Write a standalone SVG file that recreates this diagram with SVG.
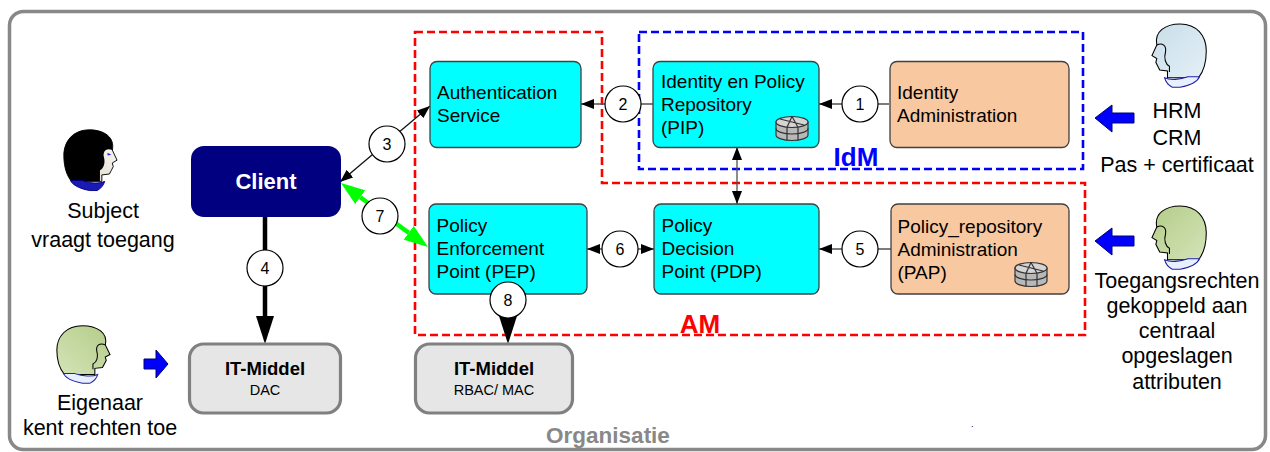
<svg xmlns="http://www.w3.org/2000/svg" width="1270" height="452" viewBox="0 0 1270 452">
  <style>
    text { font-family: "Liberation Sans", Arial, sans-serif; fill: #000; }
    .node { stroke: #404040; stroke-width: 1.3; }
    .svc { fill: #00FFFF; }
    .adm { fill: #F8C8A0; }
    .it { fill: #E6E6E6; stroke: #808080; stroke-width: 3.2; }
    .nt { font-size: 19px; }
    .it-t { font-size: 18.5px; font-weight: bold; text-anchor: middle; }
    .it-s { font-size: 14.5px; text-anchor: middle; }
    .lbl { font-size: 21.5px; text-anchor: middle; }
    .num circle { fill: #FFFFFF; stroke: #000; stroke-width: 1.2; }
    .num text { font-size: 16px; text-anchor: middle; }
    .thin { stroke: #505050; stroke-width: 1.3; fill: none; }
    .thick { stroke: #000; stroke-width: 4.5; fill: none; }
    .green { stroke: #00FF00; stroke-width: 4.5; fill: none; }
    .zone { fill: none; stroke-width: 2.6; stroke-dasharray: 8 4; }
    .barrow { fill: #0000FF; stroke: #00007A; stroke-width: 1; }
  </style>
  <defs>
    <marker id="ah" markerUnits="userSpaceOnUse" markerWidth="13" markerHeight="10" refX="13" refY="5" orient="auto-start-reverse">
      <path d="M0,0 L13,5 L0,10 Z" fill="#000"/>
    </marker>
    <marker id="ab" markerUnits="userSpaceOnUse" markerWidth="28" markerHeight="18" refX="0" refY="9" orient="auto">
      <path d="M0,0 L28,9 L0,18 Z" fill="#000"/>
    </marker>
    <marker id="ag" markerUnits="userSpaceOnUse" markerWidth="24" markerHeight="17" refX="0" refY="8.5" orient="auto-start-reverse">
      <path d="M0,0 L24,8.5 L0,17 Z" fill="#00FF00"/>
    </marker>
    <linearGradient id="skin" x1="0" y1="0" x2="1" y2="1">
      <stop offset="0" stop-color="#FFFFFF"/>
      <stop offset="1" stop-color="#D8CDB8"/>
    </linearGradient>
    <linearGradient id="gHead" x1="0" y1="0" x2="1" y2="1">
      <stop offset="0" stop-color="#B4CC88"/>
      <stop offset="1" stop-color="#D4E4B8"/>
    </linearGradient>
    <linearGradient id="bHead" x1="0" y1="0" x2="1" y2="1">
      <stop offset="0" stop-color="#C8DEEA"/>
      <stop offset="1" stop-color="#E4F0F6"/>
    </linearGradient>
    <!-- profile head facing left, local box 58 x 68 -->
    <path id="headShape" d="M6,24 C3,10 15,2 30,2 C47,2 57,14 57,30 C57,44 53,53 49,58 L17,58 L17,51 L9,50 L7,46 L5,42 L6,38 L1,35 Z"/>
    <path id="hairShape" d="M6,24 C3,10 15,2 30,2 C47,2 57,14 57,30 C57,44 53,53 49,58 L19,58 L19,46 C15,44 13,38 15,31 C16,25 12,21 6,24 Z"/>
    <path id="hairLine" d="M6,24 C12,21 16,25 15,31 C13,38 15,44 19,46 L19,52" fill="none"/>
    <path id="collar" d="M14,58 C20,61 30,60 38,57 L50,57 C48,62 40,66 30,68 L22,68 C18,66 15,62 14,58 Z"/>
    <!-- database cylinder -->
    <g id="db" stroke="#333" stroke-width="1.2">
      <path d="M1,6 L1,19 A16,5.5 0 0 0 33,19 L33,6 Z" fill="#B8B8B8"/>
      <path d="M1,12.5 A16,5.5 0 0 0 33,12.5" fill="none"/>
      <path d="M12,11.3 L12,24.2 M23,11.3 L23,24.2" fill="none"/>
      <ellipse cx="17" cy="6" rx="16" ry="5.5" fill="#D4D4D4"/>
      <path d="M5,3 L29,9 M17,0.5 L12,11.3 M17,0.5 L23,11.3" fill="none"/>
    </g>
  </defs>

  <!-- organisation frame -->
  <rect x="9.5" y="11.5" width="1256" height="438" rx="14" fill="#FFFFFF" stroke="#888888" stroke-width="3.5"/>
  <text x="608" y="443" font-size="22.5" font-weight="bold" text-anchor="middle" style="fill:#888888">Organisatie</text>
  <text x="971" y="427" font-size="9">.</text>

  <!-- AM and IdM zones -->
  <g id="zones">
    <path class="zone" stroke="#FF0000" d="M415,32 L602,32 L602,183 L1085,183 L1085,335 L415,335 Z"/>
    <path class="zone" stroke="#0000FF" d="M639,32 L1083,32 L1083,169 L639,169 Z"/>
    <text x="700" y="333" font-size="26" font-weight="bold" text-anchor="middle" style="fill:#FF0000">AM</text>
    <text x="856" y="166" font-size="26" font-weight="bold" text-anchor="middle" style="fill:#0000FF">IdM</text>
  </g>

  <!-- connectors -->
  <g id="connectors">
    <line class="thin" x1="889" y1="104" x2="819" y2="104" marker-end="url(#ah)"/>
    <line class="thin" x1="653" y1="104" x2="581" y2="104" marker-end="url(#ah)"/>
    <line class="thin" style="stroke:#111" x1="340" y1="182" x2="430" y2="106" marker-start="url(#ah)" marker-end="url(#ah)"/>
    <line class="thin" x1="737" y1="147" x2="737" y2="204" marker-start="url(#ah)" marker-end="url(#ah)"/>
    <line class="thin" x1="587" y1="249" x2="654" y2="249" marker-start="url(#ah)" marker-end="url(#ah)"/>
    <line class="thin" x1="891" y1="249" x2="819" y2="249" marker-end="url(#ah)"/>
    <line class="green" x1="360.3" y1="197.2" x2="408.7" y2="232.8" marker-start="url(#ag)" marker-end="url(#ag)"/>
    <line class="thick" x1="265" y1="217" x2="265" y2="316" marker-end="url(#ab)"/>
    <line class="thick" x1="508" y1="294" x2="508" y2="316" marker-end="url(#ab)"/>
  </g>

  <!-- nodes -->
  <g id="client">
    <rect x="191" y="146" width="150" height="71" rx="13" fill="#000080"/>
    <text x="266" y="189" font-size="22" font-weight="bold" text-anchor="middle" style="fill:#FFFFFF">Client</text>
  </g>
  <g id="authentication">
    <rect class="node svc" x="430" y="61.5" width="151" height="86" rx="7"/>
    <text class="nt" x="437" y="99">Authentication</text>
    <text class="nt" x="437" y="122">Service</text>
  </g>
  <g id="pip">
    <rect class="node svc" x="653" y="61.5" width="166" height="86" rx="7"/>
    <text class="nt" x="661" y="88">Identity en Policy</text>
    <text class="nt" x="661" y="111">Repository</text>
    <text class="nt" x="661" y="134">(PIP)</text>
    <use href="#db" x="775" y="116"/>
  </g>
  <g id="identity-admin">
    <rect class="node adm" x="890" y="61.5" width="179" height="86" rx="7"/>
    <text class="nt" x="897" y="99">Identity</text>
    <text class="nt" x="897" y="122">Administration</text>
  </g>
  <g id="pep">
    <rect class="node svc" x="429" y="204" width="158" height="90" rx="7"/>
    <text class="nt" x="436.5" y="232">Policy</text>
    <text class="nt" x="436.5" y="255">Enforcement</text>
    <text class="nt" x="436.5" y="278">Point (PEP)</text>
  </g>
  <g id="pdp">
    <rect class="node svc" x="654" y="204" width="165" height="90" rx="7"/>
    <text class="nt" x="661.5" y="232">Policy</text>
    <text class="nt" x="661.5" y="255">Decision</text>
    <text class="nt" x="661.5" y="278">Point (PDP)</text>
  </g>
  <g id="pap">
    <rect class="node adm" x="891" y="204" width="178" height="90" rx="7"/>
    <text class="nt" x="897.5" y="233">Policy_repository</text>
    <text class="nt" x="897.5" y="256">Administration</text>
    <text class="nt" x="897.5" y="279">(PAP)</text>
    <use href="#db" x="1014" y="262"/>
  </g>
  <g id="it-dac">
    <rect class="it" x="189.5" y="344" width="151" height="69" rx="14"/>
    <text class="it-t" x="265" y="375">IT-Middel</text>
    <text class="it-s" x="265" y="395">DAC</text>
  </g>
  <g id="it-rbac">
    <rect class="it" x="415.5" y="344" width="157" height="69" rx="14"/>
    <text class="it-t" x="494" y="375">IT-Middel</text>
    <text class="it-s" x="494" y="395">RBAC/ MAC</text>
  </g>

  <!-- step numbers -->
  <g id="steps" class="num">
    <circle cx="860" cy="104" r="18"/><text x="860" y="110">1</text>
    <circle cx="623" cy="104" r="18"/><text x="623" y="110">2</text>
    <circle cx="387" cy="144" r="18"/><text x="387" y="150">3</text>
    <circle cx="265" cy="268" r="18"/><text x="265" y="274">4</text>
    <circle cx="860" cy="249" r="18"/><text x="860" y="255">5</text>
    <circle cx="620" cy="249" r="18"/><text x="620" y="255">6</text>
    <circle cx="380" cy="216" r="18"/><text x="380" y="222">7</text>
    <circle cx="508" cy="300" r="18"/><text x="508" y="306">8</text>
  </g>

  <!-- actors -->
  <g id="subject">
    <g transform="translate(118,128) scale(-0.95,0.92)">
      <use href="#headShape" fill="url(#skin)" stroke="#000" stroke-width="1"/>
      <use href="#hairShape" fill="#000"/>
      <use href="#collar" fill="#1A1AB4" stroke="#000080" stroke-width="1"/>
      <path d="M11,27 L7,29 L11,30 Z" fill="#2020FF"/>
    </g>
    <text class="lbl" x="103" y="218">Subject</text>
    <text class="lbl" x="103" y="247">vraagt toegang</text>
  </g>
  <g id="owner">
    <g transform="translate(111,324) scale(-0.95,0.87)">
      <use href="#headShape" fill="url(#gHead)" stroke="#000" stroke-width="1.1"/>
      <use href="#hairLine" stroke="#000" stroke-width="1.1"/>
      <use href="#collar" fill="#E8F0FF" stroke="#2020A0" stroke-width="1.1"/>
    </g>
    <path class="barrow" d="M144,359 L156,359 L156,350 L168,364 L156,378 L156,369 L144,369 Z"/>
    <text class="lbl" x="100" y="410">Eigenaar</text>
    <text class="lbl" x="100" y="435">kent rechten toe</text>
  </g>
  <g id="hrm">
    <g transform="translate(1151,22) scale(0.97,0.96)">
      <use href="#headShape" fill="url(#bHead)" stroke="#000" stroke-width="1.1"/>
      <use href="#hairLine" stroke="#000" stroke-width="1.1"/>
      <use href="#collar" fill="#E8F0FF" stroke="#2020A0" stroke-width="1.1"/>
    </g>
    <path class="barrow" d="M1095,118 L1112,105 L1112,113 L1134,113 L1134,123 L1112,123 L1112,132 Z"/>
    <text class="lbl" x="1177" y="118">HRM</text>
    <text class="lbl" x="1177" y="145">CRM</text>
    <text class="lbl" x="1177" y="172">Pas + certificaat</text>
  </g>
  <g id="rights">
    <g transform="translate(1151,204) scale(0.97,0.96)">
      <use href="#headShape" fill="url(#gHead)" stroke="#000" stroke-width="1.1"/>
      <use href="#hairLine" stroke="#000" stroke-width="1.1"/>
      <use href="#collar" fill="#E8F0FF" stroke="#2020A0" stroke-width="1.1"/>
    </g>
    <path class="barrow" d="M1095,241 L1112,228 L1112,236 L1134,236 L1134,246 L1112,246 L1112,255 Z"/>
    <text class="lbl" x="1177" y="288">Toegangsrechten</text>
    <text class="lbl" x="1177" y="313">gekoppeld aan</text>
    <text class="lbl" x="1177" y="338">centraal</text>
    <text class="lbl" x="1177" y="363">opgeslagen</text>
    <text class="lbl" x="1177" y="389">attributen</text>
  </g>
</svg>
